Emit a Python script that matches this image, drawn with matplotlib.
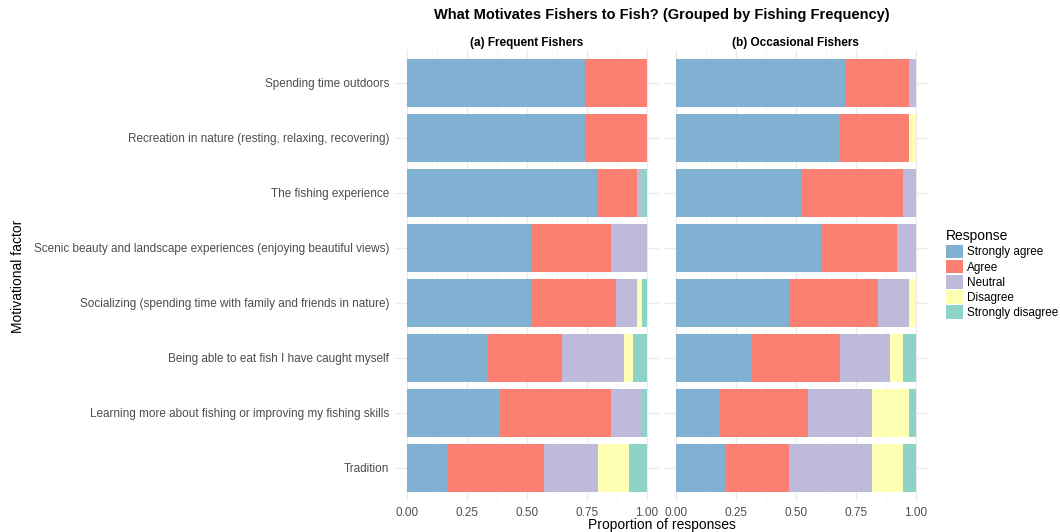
import numpy as np
import matplotlib
matplotlib.use("Agg")
import matplotlib.pyplot as plt
from matplotlib.patches import Patch

plt.rcParams['font.family'] = ['Liberation Sans', 'DejaVu Sans']

# Motivational factors, top to bottom
factors = [
    "Spending time outdoors",
    "Recreation in nature (resting, relaxing, recovering)",
    "The fishing experience",
    "Scenic beauty and landscape experiences (enjoying beautiful views)",
    "Socializing (spending time with family and friends in nature)",
    "Being able to eat fish I have caught myself",
    "Learning more about fishing or improving my fishing skills",
    "Tradition",
]

responses = ["Strongly agree", "Agree", "Neutral", "Disagree", "Strongly disagree"]
colors = ["#80B1D3", "#FB8072", "#BEBADA", "#FFFFB3", "#8DD3C7"]

# Proportions per factor: [SA, A, N, D, SD]
frequent = [
    [0.742, 0.258, 0.000, 0.000, 0.000],
    [0.742, 0.258, 0.000, 0.000, 0.000],
    [0.796, 0.165, 0.016, 0.000, 0.023],
    [0.519, 0.332, 0.149, 0.000, 0.000],
    [0.519, 0.352, 0.090, 0.019, 0.020],
    [0.333, 0.314, 0.258, 0.039, 0.056],
    [0.387, 0.464, 0.129, 0.000, 0.020],
    [0.167, 0.406, 0.223, 0.129, 0.075],
]

occasional = [
    [0.710, 0.264, 0.026, 0.000, 0.000],
    [0.685, 0.289, 0.000, 0.026, 0.000],
    [0.526, 0.423, 0.051, 0.000, 0.000],
    [0.606, 0.316, 0.078, 0.000, 0.000],
    [0.474, 0.368, 0.130, 0.028, 0.000],
    [0.317, 0.368, 0.209, 0.053, 0.053],
    [0.183, 0.370, 0.264, 0.157, 0.026],
    [0.210, 0.264, 0.343, 0.130, 0.053],
]

panel_titles = ["(a) Frequent Fishers", "(b) Occasional Fishers"]
xticks = [0.0, 0.25, 0.5, 0.75, 1.0]
xticklabels = ["0.00", "0.25", "0.50", "0.75", "1.00"]

fig = plt.figure(figsize=(10.6, 5.32), dpi=100)
ax_left = fig.add_axes([0.3724, 0.0583, 0.249, 0.848])
ax_right = fig.add_axes([0.6261, 0.0583, 0.249, 0.848])

ypos = np.arange(len(factors))

for ax, data, title in zip([ax_left, ax_right], [frequent, occasional], panel_titles):
    arr = np.array(data)
    left = np.zeros(len(factors))
    for j, resp in enumerate(responses):
        ax.barh(ypos, arr[:, j], left=left, height=0.88, color=colors[j],
                edgecolor="none", zorder=2)
        left += arr[:, j]

    ax.set_xlim(-0.05, 1.05)
    ax.set_ylim(len(factors) - 0.4, -0.6)
    ax.set_xticks(xticks)
    ax.set_xticklabels(xticklabels)
    ax.set_xticks([0.125, 0.375, 0.625, 0.875], minor=True)
    ax.set_yticks(ypos)
    ax.grid(True, which="major", color="#EBEBEB", lw=0.9, zorder=0)
    ax.grid(True, which="minor", axis="x", color="#F2F2F2", lw=0.5, zorder=0)
    ax.tick_params(which="both", length=0, labelsize=8.5, colors="#4D4D4D", pad=4)
    for s in ax.spines.values():
        s.set_visible(False)
    ax.set_title(title, fontsize=8.5, fontweight="bold", pad=3)

ax_left.set_yticklabels(factors)
ax_right.set_yticklabels([])

fig.suptitle("What Motivates Fishers to Fish? (Grouped by Fishing Frequency)",
             x=0.624, y=0.985, fontsize=10.5, fontweight="bold")
fig.text(0.624, 0.0, "Proportion of responses", ha="center", va="bottom", fontsize=10)
fig.text(0.010, 0.48, "Motivational factor", rotation=90, ha="left", va="center", fontsize=10)

handles = [Patch(facecolor=c, edgecolor="none") for c in colors]
leg = fig.legend(handles, responses, title="Response", loc="upper left",
                 bbox_to_anchor=(0.888, 0.578), frameon=False, fontsize=8.5,
                 title_fontsize=10, handlelength=1.4, handleheight=1.4,
                 handletextpad=0.35, labelspacing=0.12, borderaxespad=0)
leg._legend_box.align = "left"

fig.savefig("out.png", dpi=100)
